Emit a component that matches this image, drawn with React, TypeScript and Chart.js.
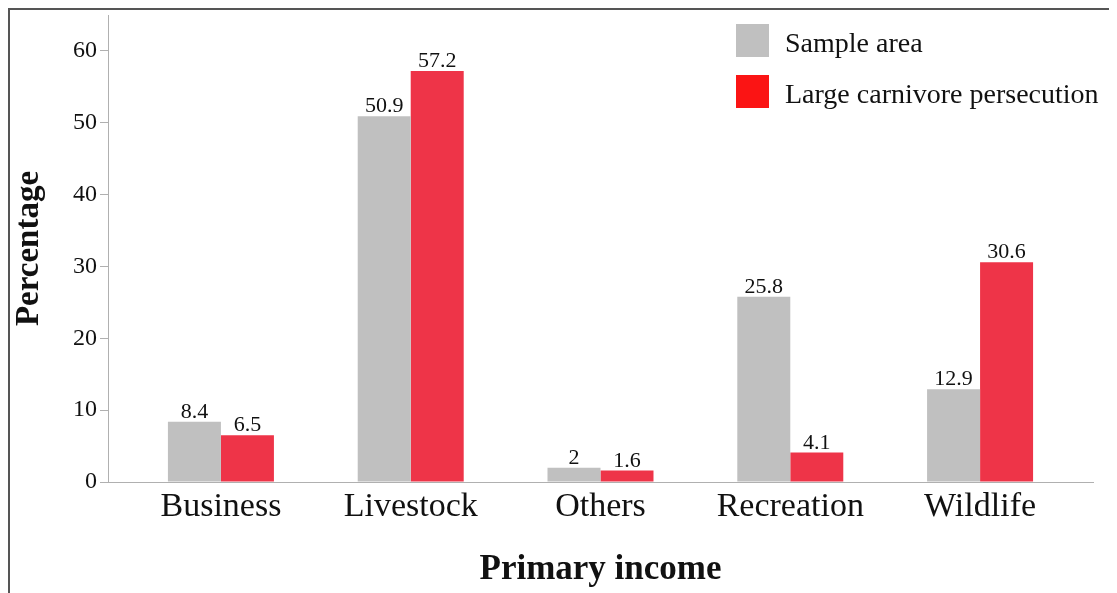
import React, { useEffect, useRef } from "react";
import { Chart, registerables } from "chart.js";

Chart.register(...registerables);

const categories = ["Business", "Livestock", "Others", "Recreation", "Wildlife"];
const sampleArea = [8.4, 50.9, 2, 25.8, 12.9];
const carnivorePersecution = [6.5, 57.2, 1.6, 4.1, 30.6];
const yTicks = [0, 10, 20, 30, 40, 50, 60];
const seriesNames = ["Sample area", "Large carnivore persecution"];

const SERIF = "'Liberation Serif', 'Times New Roman', serif";
const GREY = "#c0c0c0";
const RED = "#ee3448";
const LEGEND_RED = "#fb1414";
const AXIS = "#b0b0b0";

const valueLabels = {
  id: "valueLabels",
  afterDatasetsDraw(chart: any) {
    const ctx = chart.ctx;
    ctx.save();
    ctx.font = `22px ${SERIF}`;
    ctx.fillStyle = "#111";
    ctx.textAlign = "center";
    ctx.textBaseline = "alphabetic";
    chart.data.datasets.forEach((ds: any, di: number) => {
      const meta = chart.getDatasetMeta(di);
      meta.data.forEach((el: any, i: number) => {
        const v = ds.data[i].y;
        ctx.fillText(String(v), el.x, el.y - 4);
      });
    });
    ctx.restore();
  },
};

export default function App() {
  const ref = useRef<HTMLCanvasElement>(null);

  useEffect(() => {
    document.body.style.overflow = "hidden";
    const canvas = ref.current!;
    const chart = new Chart(canvas, {
      type: "bar",
      data: {
        datasets: [
          {
            label: seriesNames[0],
            data: sampleArea.map((v, i) => ({ x: i, y: v })),
            backgroundColor: GREY,
          },
          {
            label: seriesNames[1],
            data: carnivorePersecution.map((v, i) => ({ x: i, y: v })),
            backgroundColor: RED,
          },
        ],
      },
      options: {
        responsive: false,
        animation: false,
        devicePixelRatio: 1,
        layout: { padding: { left: 0, right: 24, top: 5, bottom: 0 } },
        datasets: { bar: { categoryPercentage: 0.5585, barPercentage: 1 } },
        plugins: {
          legend: { display: false },
          tooltip: { enabled: false },
        },
        scales: {
          x: {
            type: "linear",
            min: -0.595,
            max: 4.595,
            offset: false,
            afterBuildTicks: (s: any) => {
              s.ticks = categories.map((_, i) => ({ value: i }));
            },
            afterFit: (s: any) => {
              s.height = 111;
              s.paddingLeft = 0;
              s.paddingRight = 0;
            },
            grid: { display: false, drawTicks: false, offset: false },
            border: { display: true, color: AXIS, width: 1 },
            ticks: {
              padding: 5,
              color: "#111",
              font: { family: SERIF, size: 34 },
              maxRotation: 0,
              autoSkip: false,
              callback: (v: any) => categories[Math.round(Number(v))] ?? "",
            },
            title: {
              display: true,
              text: "Primary income",
              color: "#111",
              font: { family: SERIF, size: 35, weight: "bold" },
              padding: { top: 0, bottom: 2 },
            },
          },
          y: {
            min: 0,
            max: 65,
            afterBuildTicks: (s: any) => {
              s.ticks = yTicks.map((v) => ({ value: v }));
            },
            afterFit: (s: any) => {
              s.width = 98;
              s.paddingTop = 0;
              s.paddingBottom = 0;
            },
            grid: {
              display: true,
              drawOnChartArea: false,
              drawTicks: true,
              tickLength: 8,
              color: AXIS,
            },
            border: { display: true, color: AXIS, width: 1 },
            ticks: {
              padding: 3,
              color: "#111",
              font: { family: SERIF, size: 24 },
            },
            title: {
              display: true,
              text: "Percentage",
              color: "#111",
              font: { family: SERIF, size: 33, weight: "bold" },
              padding: { top: 0, bottom: 0 },
            },
          },
        },
      } as any,
      plugins: [valueLabels],
    });
    return () => chart.destroy();
  }, []);

  const legendRow = (color: string, text: string, top: number) => (
    <div
      style={{
        position: "absolute",
        left: 726,
        top,
        display: "flex",
        alignItems: "center",
        height: 33,
      }}
    >
      <div style={{ width: 33, height: 33, background: color }} />
      <span
        style={{
          marginLeft: 16,
          fontFamily: SERIF,
          fontSize: 28,
          color: "#111",
          whiteSpace: "nowrap",
          lineHeight: "33px",
          position: "relative",
          top: 2,
        }}
      >
        {text}
      </span>
    </div>
  );

  return (
    <div
      style={{
        position: "relative",
        width: 1109,
        height: 585,
        boxSizing: "border-box",
        borderTop: "2px solid #555",
        borderLeft: "2px solid #555",
        background: "#fff",
      }}
    >
      <canvas ref={ref} width={1107} height={583} style={{ display: "block" }} />
      {legendRow(GREY, seriesNames[0], 14)}
      {legendRow(LEGEND_RED, seriesNames[1], 65)}
    </div>
  );
}
